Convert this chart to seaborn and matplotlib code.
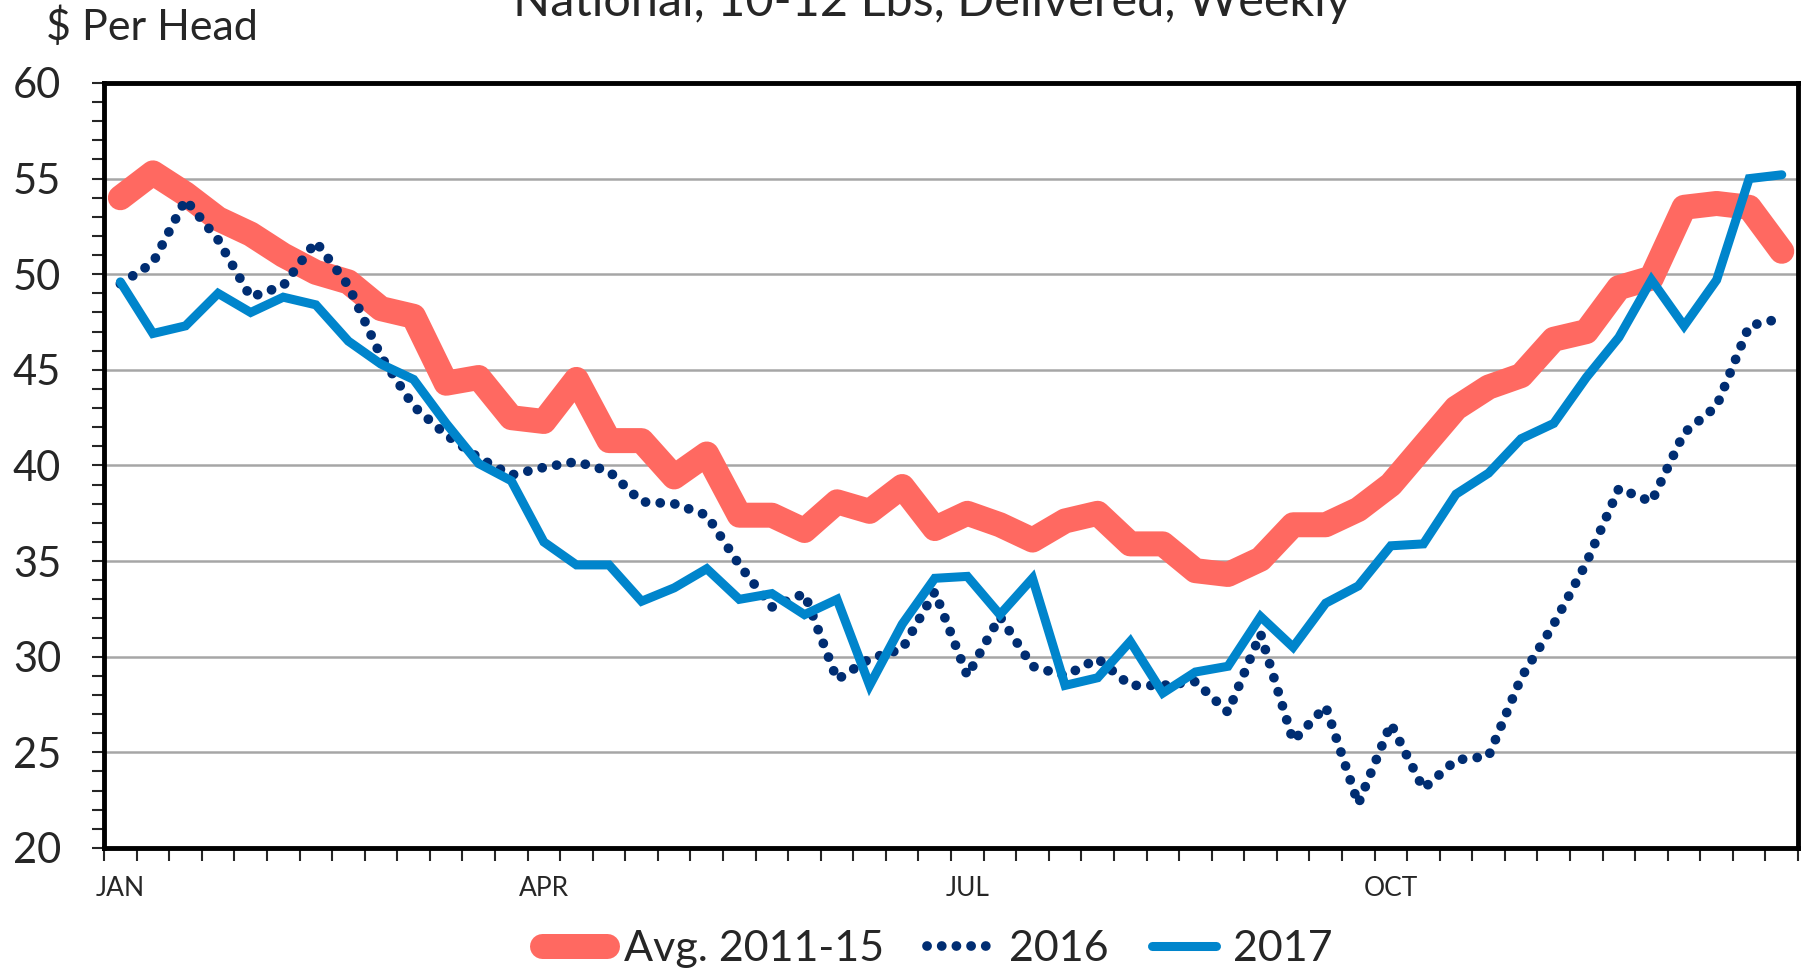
import numpy as np
import pandas as pd
import matplotlib.pyplot as plt
import seaborn as sns

# weekly feeder pig prices, $ per head
weeks = np.arange(52)
month_ticks = [0, 13, 26, 39]
month_labels = ['JAN', 'APR', 'JUL', 'OCT']

avg_2011_15 = [54.0, 55.3, 54.2, 52.9, 52.1, 51.0, 50.1, 49.6, 48.2, 47.8,
               44.3, 44.6, 42.5, 42.3, 44.5, 41.3, 41.3, 39.4, 40.6, 37.4,
               37.4, 36.6, 38.1, 37.6, 38.9, 36.7, 37.5, 36.9, 36.1, 37.1,
               37.5, 35.9, 35.9, 34.5, 34.3, 35.1, 36.9, 36.9, 37.7, 39.0,
               41.0, 43.0, 44.1, 44.7, 46.6, 47.0, 49.3, 49.8, 53.5, 53.7,
               53.5, 51.2]
y2016 = [49.5, 50.6, 53.9, 51.8, 48.8, 49.4, 51.7, 49.4, 45.7, 43.1,
         41.6, 40.4, 39.5, 39.9, 40.2, 39.7, 38.1, 38.0, 37.4, 34.8,
         32.6, 33.3, 28.8, 29.9, 30.4, 33.4, 29.0, 32.1, 29.5, 29.0,
         29.9, 28.5, 28.5, 28.7, 27.1, 31.2, 25.6, 27.4, 22.3, 26.5,
         23.1, 24.6, 24.8, 28.9, 31.7, 34.9, 38.8, 38.1, 41.7, 43.1,
         47.3, 47.7]
y2017 = [49.6, 46.9, 47.3, 49.0, 48.0, 48.8, 48.4, 46.5, 45.3, 44.5,
         42.2, 40.1, 39.2, 36.0, 34.8, 34.8, 32.9, 33.6, 34.6, 33.0,
         33.3, 32.2, 33.0, 28.5, 31.7, 34.1, 34.2, 32.2, 34.1, 28.5,
         28.9, 30.8, 28.1, 29.2, 29.5, 32.1, 30.5, 32.8, 33.7, 35.8,
         35.9, 38.5, 39.6, 41.4, 42.2, 44.6, 46.7, 49.7, 47.3, 49.7,
         55.0, 55.2]

df = pd.DataFrame({'week': weeks, 'Avg. 2011-15': avg_2011_15,
                   '2016': y2016, '2017': y2017})

sns.set_style('white')
plt.rcParams['font.family'] = ['Lato', 'DejaVu Sans']

fig = plt.figure(figsize=(18.1, 9.74), dpi=100)
ax = fig.add_axes([0.0575, 0.1294, 0.9359, 0.7854])

sns.lineplot(data=df, x='week', y='Avg. 2011-15', ax=ax, color='#FF6961',
             linewidth=18, solid_capstyle='round', solid_joinstyle='round')
sns.lineplot(data=df, x='week', y='2016', ax=ax, color='#002D72',
             linewidth=7)
sns.lineplot(data=df, x='week', y='2017', ax=ax, color='#0085CC',
             linewidth=6.5, solid_capstyle='round', solid_joinstyle='miter')

lines = ax.get_lines()
lines[1].set_linestyle((0, (0.01, 1.5)))
lines[1].set_dash_capstyle('round')

ax.set_xlim(-0.5, 51.5)
ax.set_ylim(20, 60)
ax.set_xticks(month_ticks)
ax.set_xticklabels(month_labels)
ax.set_xticks(np.arange(-0.5, 52, 1), minor=True)
ax.set_yticks(np.arange(20, 61, 5))
ax.set_yticks(np.arange(20, 61, 1), minor=True)
ax.tick_params(axis='x', which='major', length=0, pad=20, labelsize=19)
ax.tick_params(axis='x', which='minor', length=9, width=1.5, direction='out', bottom=True)
ax.tick_params(axis='y', which='both', length=9, width=1.5, direction='out', left=True)
ax.tick_params(axis='y', which='major', labelsize=30, pad=22)
ax.set_xlabel('')
ax.set_ylabel('')

ax.grid(axis='y', color='#A6A6A6', linewidth=1.8)
ax.set_axisbelow(True)
for s in ax.spines.values():
    s.set_visible(True)
    s.set_color('black')
    s.set_linewidth(3.5)

fig.text(46 / 1810, 1 - 40 / 974, '$ Per Head', fontsize=31, ha='left', va='baseline')
fig.text(932 / 1810, 1 - 16 / 974, 'National, 10-12 Lbs, Delivered, Weekly',
         fontsize=35, ha='center', va='baseline')

fig.legend(lines, ['Avg. 2011-15', '2016', '2017'], loc='center',
           bbox_to_anchor=(0.518, 0.026), ncol=3, frameon=False, fontsize=31,
           handlelength=1.5, handletextpad=0.4, columnspacing=1.0)

fig.savefig('out.png', dpi=100)
